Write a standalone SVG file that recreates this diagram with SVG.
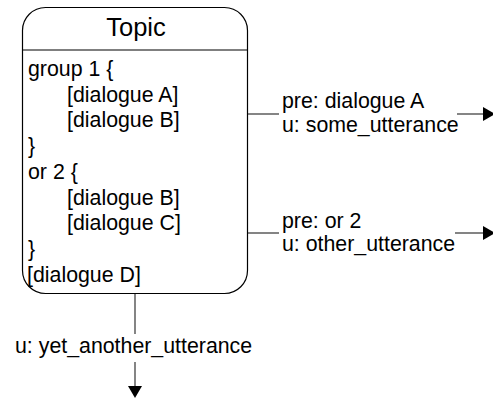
<svg xmlns="http://www.w3.org/2000/svg" width="493" height="400" viewBox="0 0 493 400">
  <style>
    .box { fill: #ffffff; stroke: #000000; stroke-width: 1.2; }
    .sep { stroke: #000000; stroke-width: 1.2; }
    .edge { fill: none; stroke: #333333; stroke-width: 1.2; }
    .title { font-family: "Liberation Sans", Arial, sans-serif; font-size: 25.5px; fill: #000000; text-anchor: middle; }
    .txt { font-family: "Liberation Sans", Arial, sans-serif; font-size: 21.33px; fill: #000000; }
  </style>
  <defs>
    <marker id="arrow" markerUnits="userSpaceOnUse" markerWidth="12" markerHeight="14" refX="0" refY="7" orient="auto">
      <polygon points="0,0 12,7 0,14" fill="#000000"/>
    </marker>
  </defs>
  <rect width="493" height="400" fill="#ffffff"/>

  <!-- Topic state box -->
  <g id="topic">
    <rect class="box" x="22.5" y="7.5" width="225" height="286" rx="23" ry="23"/>
    <line class="sep" x1="22.5" y1="50" x2="247.5" y2="50"/>
    <text class="title" x="136" y="36">Topic</text>
    <text class="txt" x="28" y="76">group 1 {</text>
    <text class="txt" x="67" y="101.7">[dialogue A]</text>
    <text class="txt" x="67" y="127.4">[dialogue B]</text>
    <text class="txt" x="28" y="153.1">}</text>
    <text class="txt" x="28" y="178.8">or 2 {</text>
    <text class="txt" x="67" y="204.5">[dialogue B]</text>
    <text class="txt" x="67" y="230.2">[dialogue C]</text>
    <text class="txt" x="28" y="255.9">}</text>
    <text class="txt" x="27" y="281.6">[dialogue D]</text>
  </g>

  <!-- Outgoing transitions -->
  <g id="connectors">
    <line class="edge" x1="248" y1="114" x2="279" y2="114"/>
    <line class="edge" x1="457" y1="114" x2="483" y2="114" marker-end="url(#arrow)"/>
    <line class="edge" x1="248" y1="233" x2="279" y2="233"/>
    <line class="edge" x1="455" y1="233" x2="483" y2="233" marker-end="url(#arrow)"/>
    <line class="edge" x1="135" y1="294" x2="135" y2="334"/>
    <line class="edge" x1="135" y1="362" x2="135" y2="386" marker-end="url(#arrow)"/>
  </g>

  <!-- Transition labels -->
  <g id="labels">
    <text class="txt" x="282" y="108">pre: dialogue A</text>
    <text class="txt" x="282" y="132">u: some_utterance</text>
    <text class="txt" x="282" y="227.5">pre: or 2</text>
    <text class="txt" x="282" y="251">u: other_utterance</text>
    <text class="txt" x="15" y="353">u: yet_another_utterance</text>
  </g>
</svg>
